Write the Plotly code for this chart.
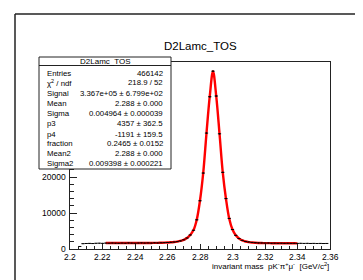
import plotly.graph_objects as go

# ---------------- data ----------------
hist_x = [2.206, 2.208, 2.210, 2.212, 2.214, 2.216, 2.218, 2.220, 2.222, 2.224,
          2.226, 2.228, 2.230, 2.232, 2.234, 2.236, 2.238, 2.240, 2.242, 2.244,
          2.246, 2.248, 2.250, 2.252, 2.254, 2.256, 2.258, 2.260, 2.262, 2.264,
          2.266, 2.268, 2.270, 2.272, 2.274, 2.276, 2.278, 2.280, 2.282, 2.284,
          2.286, 2.288, 2.290, 2.292, 2.294, 2.296, 2.298, 2.300, 2.302, 2.304,
          2.306, 2.308, 2.310, 2.312, 2.314, 2.316, 2.318, 2.320, 2.322, 2.324,
          2.326, 2.328, 2.330, 2.332, 2.334, 2.336, 2.338, 2.340, 2.342, 2.344,
          2.346, 2.348, 2.350, 2.352, 2.354, 2.356, 2.358]
hist_y = [700, 1480, 1530, 1560, 1510, 1590, 1620, 1570, 1640, 1610,
          1660, 1630, 1600, 1650, 1620, 1680, 1640, 1610, 1660, 1700,
          1650, 1690, 1640, 1710, 1680, 1730, 1760, 1800, 1850, 1930,
          2050, 2250, 2550, 3050, 3900, 5200, 8100, 13400, 21100, 32200,
          42300, 49400, 42500, 32000, 21300, 14000, 8500, 5400, 3800, 2900,
          2400, 2100, 1950, 1830, 1760, 1700, 1680, 1640, 1660, 1610,
          1630, 1590, 1620, 1580, 1600, 1570, 1590, 1560, 1580, 1550,
          1570, 1540, 1560, 1530, 1550, 1520, 1540]

fit_x = [2.222, 2.224, 2.226, 2.228, 2.230, 2.232, 2.234, 2.236, 2.238, 2.240,
         2.242, 2.244, 2.246, 2.248, 2.250, 2.252, 2.254, 2.256, 2.258, 2.260,
         2.262, 2.264, 2.266, 2.268, 2.270, 2.272, 2.274, 2.276, 2.278, 2.280,
         2.282, 2.284, 2.286, 2.288, 2.290, 2.292, 2.294, 2.296, 2.298, 2.300,
         2.302, 2.304, 2.306, 2.308, 2.310, 2.312, 2.314, 2.316, 2.318, 2.320,
         2.322, 2.324, 2.326, 2.328, 2.330, 2.332, 2.334, 2.336, 2.338, 2.340]
fit_y = [1650, 1650, 1650, 1650, 1650, 1650, 1650, 1655, 1655, 1660,
         1660, 1665, 1670, 1675, 1685, 1695, 1710, 1730, 1760, 1800,
         1860, 1940, 2060, 2250, 2550, 3050, 3900, 5250, 8150, 13500,
         21200, 32200, 42400, 49400, 42400, 32100, 21300, 13900, 8400, 5400,
         3800, 2900, 2380, 2080, 1900, 1790, 1720, 1680, 1650, 1635,
         1625, 1615, 1610, 1605, 1600, 1595, 1590, 1585, 1580, 1575]

x_tick_vals = [2.2, 2.22, 2.24, 2.26, 2.28, 2.3, 2.32, 2.34, 2.36]
x_tick_text = ["2.2", "2.22", "2.24", "2.26", "2.28", "2.3", "2.32", "2.34", "2.36"]
y_tick_vals = [0, 10000, 20000]
y_tick_text = ["0", "10000", "20000"]

title_text = "D2Lamc_TOS"
x_title = "invariant mass  pK<sup>-</sup>π<sup>+</sup>μ<sup>-</sup>  [GeV/c<sup>2</sup>]"

stat_labels = ["Entries", "χ<sup>2</sup> / ndf", "Signal", "Mean", "Sigma", "p3", "p4",
               "fraction", "Mean2", "Sigma2"]
stat_values = ["466142", "218.9 / 52", "3.367e+05 ± 6.799e+02", "2.288 ± 0.000",
               "0.004964 ± 0.000039", "4357 ± 362.5", "-1191 ± 159.5",
               "0.2465 ± 0.0152", "2.288 ± 0.000", "0.009398 ± 0.000221"]

# ---------------- geometry (pixels) ----------------
W, H = 363, 280
L, R, T, B = 62, 322, 54, 241
pw, ph = R - L, B - T


def px(x):
    return (x - L) / pw


def py(y):
    return (B - y) / ph


FONT = "Liberation Sans, Arial, Helvetica, sans-serif"

fig = go.Figure()

fig.add_trace(go.Scatter(
    x=fit_x, y=fit_y, mode="lines", line=dict(color="#ff0000", width=2.4, shape="spline"),
    hoverinfo="skip", showlegend=False))

fig.add_trace(go.Scatter(
    x=hist_x, y=hist_y, mode="markers",
    marker=dict(size=1, color="black"),
    error_x=dict(type="constant", value=0.001, width=0, thickness=1, color="black"),
    error_y=dict(type="sqrt", width=0, thickness=1, color="black"),
    hoverinfo="skip", showlegend=False))

fig.update_layout(
    width=W, height=H,
    margin=dict(l=L, r=W - R, t=T, b=H - B),
    paper_bgcolor="white", plot_bgcolor="white",
    font=dict(family=FONT, size=8.5, color="black"),
    xaxis=dict(range=[2.2, 2.36], tickvals=x_tick_vals, showticklabels=False,
               ticks="inside", ticklen=5, tickcolor="#222", showgrid=False, zeroline=False,
               showline=True, linecolor="#222", linewidth=1, mirror=True,
               minor=dict(dtick=0.005, tick0=2.2, ticks="inside", ticklen=3, tickcolor="#222", showgrid=False)),
    yaxis=dict(range=[0, 51950], tickvals=y_tick_vals, showticklabels=False,
               ticks="inside", ticklen=7, tickcolor="#222", showgrid=False, zeroline=False,
               showline=True, linecolor="#222", linewidth=1, mirror=True,
               minor=dict(tickvals=[2000, 4000, 6000, 8000, 12000, 14000, 16000, 18000, 22000],
                          ticks="inside", ticklen=4, tickcolor="#222", showgrid=False)),
)

shapes = []
# outer canvas frame (left and top edges)
shapes.append(dict(type="line", xref="paper", yref="paper",
                   x0=px(7), x1=px(7), y0=py(290), y1=py(6),
                   line=dict(color="#222", width=1.5)))
shapes.append(dict(type="line", xref="paper", yref="paper",
                   x0=px(7), x1=px(380), y0=py(6), y1=py(6),
                   line=dict(color="#222", width=1.5)))
# stats box
shapes.append(dict(type="rect", xref="paper", yref="paper", layer="above",
                   x0=px(31), x1=px(163), y0=py(161), y1=py(49),
                   fillcolor="white", line=dict(color="#222", width=1)))
shapes.append(dict(type="line", xref="paper", yref="paper", layer="above",
                   x0=px(31), x1=px(163), y0=py(57.5), y1=py(57.5),
                   line=dict(color="#222", width=1)))

annotations = []
# tick labels
for v, t in zip(x_tick_vals, x_tick_text):
    annotations.append(dict(text=t, xref="x", yref="paper", x=v, y=py(248.5),
                            xanchor="center", yanchor="middle", showarrow=False,
                            font=dict(size=8.5, family=FONT)))
for v, t in zip(y_tick_vals, y_tick_text):
    annotations.append(dict(text=t, xref="paper", yref="y", x=px(59.5), y=v,
                            xanchor="right", yanchor="middle", showarrow=False,
                            font=dict(size=8.5, family=FONT)))

annotations.append(dict(text=title_text, xref="paper", yref="paper", x=px(192), y=py(38),
                        xanchor="center", yanchor="middle", showarrow=False,
                        font=dict(size=11.5, family=FONT)))
annotations.append(dict(text=title_text, xref="paper", yref="paper", x=px(97), y=py(53.5),
                        xanchor="center", yanchor="middle", showarrow=False,
                        font=dict(size=8, family=FONT)))
row_y = [65.7, 74.5, 85.5, 95.7, 105.8, 115.9, 126, 135.8, 145.7, 155.3]
for lab, val, yy in zip(stat_labels, stat_values, row_y):
    annotations.append(dict(text=lab, xref="paper", yref="paper", x=px(37), y=py(yy),
                            xanchor="left", yanchor="middle", showarrow=False,
                            font=dict(size=7.8, family=FONT)))
    annotations.append(dict(text=val, xref="paper", yref="paper", x=px(157), y=py(yy),
                            xanchor="right", yanchor="middle", showarrow=False,
                            font=dict(size=7.8, family=FONT)))
annotations.append(dict(text=x_title, xref="paper", yref="paper", x=px(323), y=py(258),
                        xanchor="right", yanchor="middle", showarrow=False,
                        font=dict(size=8, family=FONT)))

fig.update_layout(shapes=shapes, annotations=annotations)

fig.write_html("out.html")
